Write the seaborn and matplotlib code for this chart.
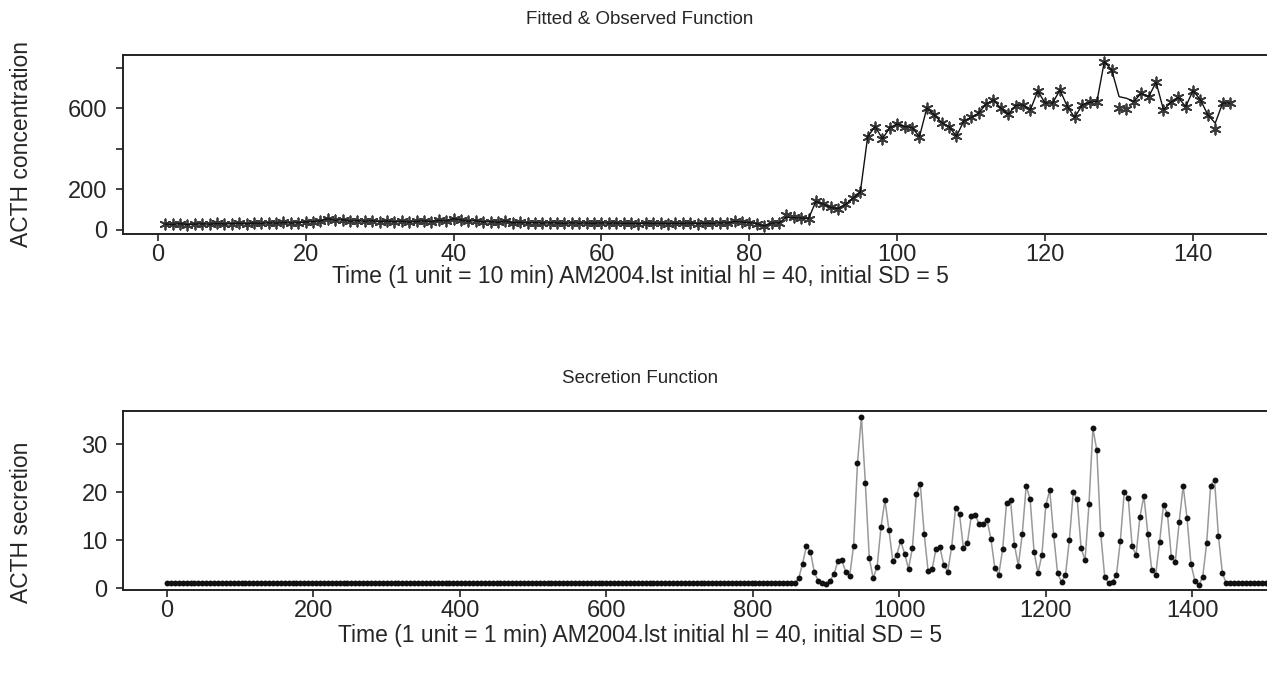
import matplotlib
matplotlib.use('Agg')
import numpy as np
import pandas as pd
import matplotlib.pyplot as plt
import seaborn as sns

# Fitted & observed ACTH concentration (1 unit = 10 min)

sample_no = list(range(1, 146))

observed = [28, 26, 30, 25, 28, 29, 27, 31, 28, 30,
            32, 29, 33, 31, 34, 32, 36, 33, 35, 38,
            40, 44, 55, 46, 50, 42, 45, 41, 44, 40,
            43, 39, 42, 38, 41, 44, 40, 46, 43, 54,
            48, 42, 45, 38, 40, 36, 43, 34, 36, 33,
            35, 32, 34, 33, 31, 34, 32, 33, 31, 34,
            32, 33, 31, 32, 30, 33, 31, 32, 30, 32,
            31, 33, 30, 32, 31, 34, 33, 41, 38, 35,
            30, 18, 33, 33, 75, 62, 58, 55, 140, 127,
            110, 105, 125, 155, 185, 460, 510, 450, 505, 523,
            510, 505, 460, 602, 568, 530, 510, 462, 538, 555,
            576, 621, 642, 601, 570, 614, 617, 593, 686, 626,
            626, 691, 609, 555, 617, 630, 634, 831, 790, 600,
            595, 634, 675, 658, 729, 593, 630, 654, 609, 688,
            642, 568, 500, 626, 626]

fitted = [28, 26, 30, 25, 28, 29, 27, 31, 28, 30,
          32, 29, 33, 31, 34, 32, 36, 33, 35, 38,
          40, 44, 55, 46, 50, 42, 45, 41, 44, 40,
          43, 39, 42, 38, 41, 44, 40, 46, 43, 54,
          48, 42, 45, 38, 40, 36, 43, 34, 36, 33,
          35, 32, 34, 33, 31, 34, 32, 33, 31, 34,
          32, 33, 31, 32, 30, 33, 31, 32, 30, 32,
          31, 33, 30, 32, 31, 34, 33, 41, 38, 35,
          30, 18, 33, 33, 62, 60, 58, 55, 140, 127,
          110, 105, 125, 155, 185, 460, 510, 450, 505, 523,
          510, 505, 460, 602, 568, 530, 510, 462, 538, 555,
          576, 621, 642, 601, 570, 614, 617, 593, 686, 626,
          626, 691, 609, 555, 617, 630, 634, 831, 790, 658,
          650, 634, 675, 658, 729, 593, 630, 654, 609, 688,
          642, 568, 527, 626, 626]

# Secretion (1 unit = 1 min), flat baseline then pulsatile part
baseline_level = 1.0
n_before = 161
n_after = 10
pulses = [2.0, 5.1, 8.8, 7.6, 3.3, 1.5, 1.0, 0.8, 1.5, 2.9,
          5.6, 5.8, 3.4, 2.5, 8.8, 26.1, 35.7, 21.9, 6.3, 2.0,
          4.4, 12.8, 18.3, 12.2, 5.6, 6.9, 9.8, 7.2, 4.0, 8.4,
          19.5, 21.7, 11.3, 3.5, 3.9, 8.1, 8.5, 4.8, 3.4,
          8.6, 16.7, 15.4, 8.3, 9.4, 15.0, 15.3, 13.3, 13.3, 14.2,
          10.3, 4.2, 2.8, 8.1, 17.8, 18.3, 9.0, 4.7, 11.3, 21.3,
          18.5, 7.6, 3.1, 6.9, 17.3, 20.4, 11.0, 3.1, 1.3, 2.7,
          10.0, 20.1, 18.5, 8.3, 5.8, 17.5, 33.3, 28.7, 11.3, 2.4,
          1.0, 1.3,
          2.7, 9.9, 20.1, 18.8, 8.7, 6.9, 14.9, 19.2, 11.3, 3.7,
          2.8, 9.6, 17.4, 15.4, 6.5, 5.5, 13.8, 21.3, 14.5, 5.0,
          1.5, 0.6, 2.4, 9.4, 21.3, 22.5, 10.8, 3.1, 1.0]

secretion = [baseline_level] * n_before + pulses + [baseline_level] * n_after
minutes = np.linspace(0, 1500, len(secretion))

conc = pd.DataFrame({'t': sample_no, 'observed': observed, 'fitted': fitted})
sec = pd.DataFrame({'t': minutes, 'secretion': secretion})

sns.set_style('ticks')
plt.rcParams['font.family'] = ['Liberation Sans', 'DejaVu Sans']
fs_title = 13.5
fs_label = 16.5
fs_tick = 17

fig = plt.figure(figsize=(12.67, 6.79), dpi=100)
ax1 = fig.add_axes([0.0971, 0.6554, 0.9029, 0.2636])
ax2 = fig.add_axes([0.0971, 0.1311, 0.9029, 0.2636])

# top panel
sns.scatterplot(data=conc, x='t', y='observed', marker=(6, 2, 0), s=55,
                color='#3a3a3a', linewidth=1.3, ax=ax1, zorder=2)
sns.lineplot(data=conc, x='t', y='fitted', color='#111111', linewidth=1.0,
             ax=ax1, zorder=3)
ax1.set_xlim(-4.7, 150)
ax1.set_ylim(-21, 864)
ax1.set_xticks([0, 20, 40, 60, 80, 100, 120, 140])
ax1.set_yticks([0, 200, 400, 600, 800])
ax1.set_yticklabels(['0', '200', '', '600', ''])
ax1.set_title('Fitted & Observed Function', fontsize=fs_title, x=0.452, pad=22)
ax1.set_xlabel('Time (1 unit = 10 min) AM2004.lst initial hl = 40, initial SD = 5', fontsize=fs_label)
ax1.set_ylabel('ACTH concentration', fontsize=fs_label)

# bottom panel
sns.lineplot(data=sec, x='t', y='secretion', color='#999999', linewidth=1.1,
             ax=ax2, zorder=2)
sns.scatterplot(data=sec, x='t', y='secretion', color='#111111', s=18,
                linewidth=0, ax=ax2, zorder=3)
ax2.set_xlim(-60, 1502)
ax2.set_ylim(-0.4, 36.9)
ax2.set_xticks([0, 200, 400, 600, 800, 1000, 1200, 1400])
ax2.set_yticks([0, 10, 20, 30])
ax2.set_title('Secretion Function', fontsize=fs_title, x=0.452, pad=20)
ax2.set_xlabel('Time (1 unit = 1 min) AM2004.lst initial hl = 40, initial SD = 5', fontsize=fs_label)
ax2.set_ylabel('ACTH secretion', fontsize=fs_label)

for ax in (ax1, ax2):
    ax.spines['right'].set_visible(False)
    for s in ('left', 'bottom', 'top'):
        ax.spines[s].set_linewidth(1.4)
        ax.spines[s].set_color('#222222')
    ax.tick_params(labelsize=fs_tick, length=5, width=1.2, color='#222222')
    ax.tick_params(axis='y', pad=6)
    ax.tick_params(axis='x', pad=2)

ax1.xaxis.set_label_coords(0.452, -0.172)
ax2.xaxis.set_label_coords(0.452, -0.19)
ax1.yaxis.set_label_coords(-0.079, 0.5)
ax2.yaxis.set_label_coords(-0.079, 0.38)

plt.savefig('out.png', dpi=100)
